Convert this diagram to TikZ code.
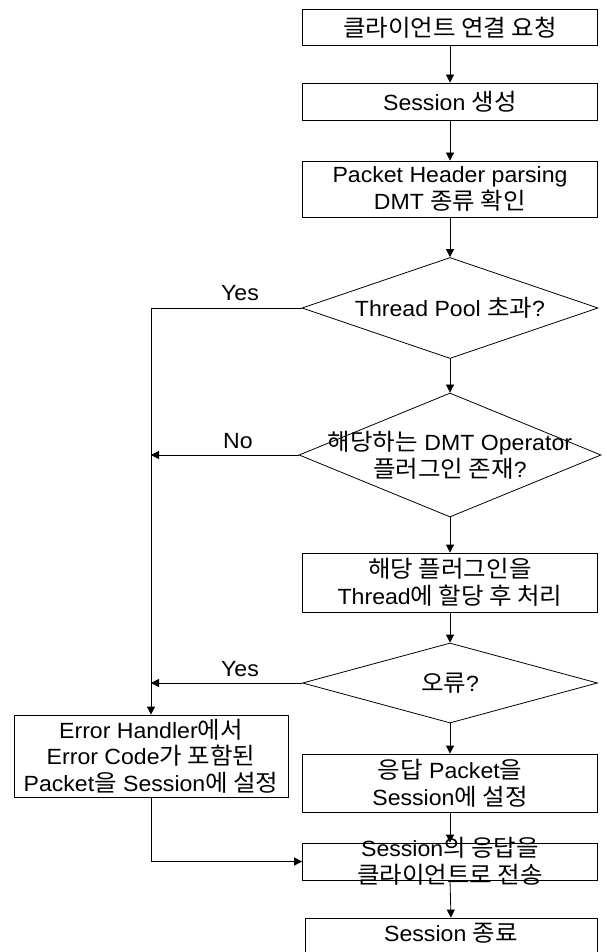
\documentclass[tikz,border=0pt]{standalone}
\usepackage{fontspec}
\setmainfont[FakeStretch=1.05]{Liberation Sans}
\newfontfamily\krfont[FakeStretch=1.05,Scale=1.06]{Noto Sans CJK KR}
\newcommand\krtext[1]{{\krfont #1}}
\usetikzlibrary{shapes.geometric,arrows.meta}
\begin{document}
\begin{tikzpicture}[x=1pt,y=-1pt,
  font=\fontsize{22}{27}\selectfont,
  >={Triangle[length=8pt,width=8pt]},
  line width=0.8pt,
  box/.style={draw, rectangle, minimum width=295pt, inner sep=0pt, align=center},
  dec/.style={draw, diamond, inner sep=0pt},
  txt/.style={align=center, inner sep=0pt}]
\useasboundingbox (0,0) rectangle (606,952);
\fill[white] (0,0) rectangle (606,952);
\node[box, minimum height=36pt] (b1) at (450,27.5) {\krtext{클라이언트 연결 요청}};
\node[box, minimum height=37pt] (b2) at (450,101.5) {Session \krtext{생성}};
\node[box, minimum height=56pt] (b3) at (450,189) {Packet Header parsing\\DMT \krtext{종류 확인}};
\node[dec, minimum width=296pt, minimum height=101pt] (d1) at (450,308) {};
\node[txt] (t1) at (d1) {Thread Pool \krtext{초과}?};
\node[dec, minimum width=302pt, minimum height=124pt] (d2) at (450,455) {};
\node[txt] (t2) at (d2) {\krtext{해당하는} DMT Operator\\\krtext{플러그인 존재}?};
\node[box, minimum height=59pt] (b4) at (450,582.5) {\krtext{해당 플러그인을}\\Thread\krtext{에 할당 후 처리}};
\node[dec, minimum width=295pt, minimum height=80pt] (d3) at (450,683) {};
\node[txt] (t3) at (d3) {\krtext{오류}?};
\node[box, minimum width=274pt, minimum height=82pt, font=\fontsize{22}{26.5}\selectfont] (err) at (151,756) {Error Handler\krtext{에서}\\Error Code\krtext{가 포함된}\\Packet\krtext{을} Session\krtext{에 설정}};
\node[box, minimum height=58pt] (b5) at (450,783) {\krtext{응답} Packet\krtext{을}\\Session\krtext{에 설정}};
\node[box, minimum height=37pt] (b6) at (450,861.5) {};
\node[txt, font=\fontsize{22}{26.5}\selectfont] (t6) at (b6) {Session\krtext{의 응답을}\\\krtext{클라이언트로 전송}};
\node[box, minimum width=292pt, minimum height=40pt] (b7) at (451,938) {};
\node[txt] (t7) at (451,933) {Session \krtext{종료}};
\coordinate (L1) at (151,308);
\coordinate (L2) at (151,455);
\coordinate (L3) at (151,683);
\coordinate (L4) at (151,861.5);
\draw[->] (b1) -- (b2);
\draw[->] (b2) -- (b3);
\draw[->] (b3) -- (d1);
\draw[->] (d1) -- (d2);
\draw[->] (d2) -- (b4);
\draw[->] (b4) -- (d3);
\draw[->] (d3) -- (b5);
\draw[->] (b5) -- (b6);
\draw[->] (b6.south) -- (b7.north);
\draw[->] (d1.west) -- (L1) -- (err.north);
\draw[->] (d2.west) -- (L2);
\draw[->] (d3.west) -- (L3);
\draw[->] (err.south) -- (L4) -- (b6.west);
\node (y1) at (240,293) {Yes};
\node (n1) at (238,441) {No};
\node (y2) at (240,669) {Yes};
\end{tikzpicture}
\end{document}
